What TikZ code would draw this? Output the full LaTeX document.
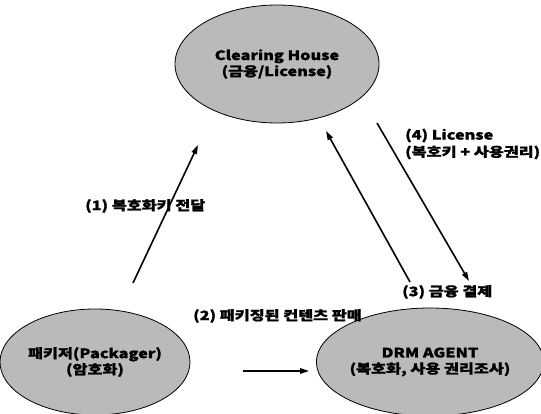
\documentclass[tikz,border=0pt]{standalone}
\usepackage{fontspec}
\setmainfont{Noto Sans CJK KR}
\newfontfamily\widebold{Noto Sans CJK KR}[FakeStretch=1.25,BoldFeatures={FakeBold=1.3}]
\usetikzlibrary{shapes.geometric,arrows.meta}
\begin{document}
\begin{tikzpicture}[x=1pt,y=-1pt,
  party/.style={ellipse,draw=black,line width=0.8pt,fill=black!27,
    font=\widebold\bfseries\fontsize{13}{16}\selectfont,align=center,inner sep=0pt},
  flow/.style={line width=1.6pt,-{Triangle[length=9pt,width=5.5pt]}},
  lbl/.style={font=\widebold\bfseries\fontsize{13}{17}\selectfont,align=left,inner sep=0pt}]
\useasboundingbox (0,0) rectangle (541,414);
\fill[white] (0,0) rectangle (541,414);

% the three parties
\node[party,minimum width=204pt,minimum height=118pt] (ch) at (277,64)
  {Clearing House\\(금융/License)};
\node[party,minimum width=190pt,minimum height=106pt] (pk) at (95,362)
  {패키저(Packager)\\(암호화)};
\node[party,minimum width=222pt,minimum height=108pt] (drm) at (430,362)
  {DRM AGENT\\(복호화, 사용 권리조사)};

% free ends of the connectors
\coordinate (a1s) at (133,283);
\coordinate (a1e) at (198,145);
\coordinate (a2s) at (243,371);
\coordinate (a2e) at (309,371);
\coordinate (a3s) at (410,282);
\coordinate (a3e) at (326,131);
\coordinate (a4s) at (377,123);
\coordinate (a4e) at (469,281);

\draw[flow] (a1s) -- (a1e);
\draw[flow] (a2s) -- (a2e);
\draw[flow] (a3s) -- (a3e);
\draw[flow] (a4s) -- (a4e);

% connector labels
\node[lbl,anchor=west] (l1) at (85,206) {(1) 복호화키 전달};
\node[lbl,anchor=west] (l2) at (193,316) {(2) 패키징된 컨텐츠 판매};
\node[lbl,anchor=west] (l3) at (402,292) {(3) 금융 결제};
\node[lbl,anchor=west] (l4) at (405,144) {(4) License\\(복호키 + 사용권리)};
\end{tikzpicture}
\end{document}
